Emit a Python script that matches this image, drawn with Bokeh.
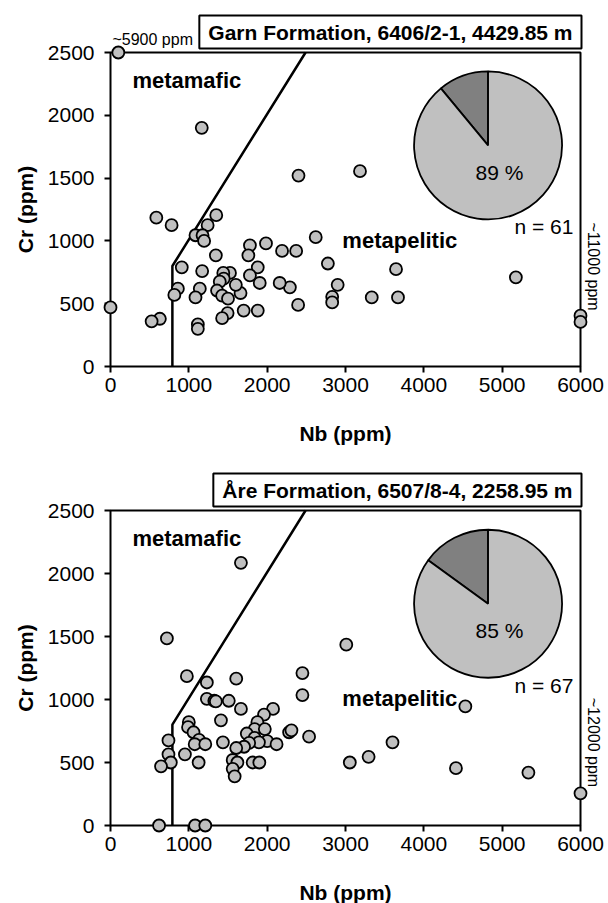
import math
from bokeh.plotting import figure
from bokeh.models import Range1d, LinearAxis, FixedTicker, BoxAnnotation, Label, ColumnDataSource
from bokeh.layouts import column
from bokeh.embed import file_html
from bokeh.resources import INLINE

# ---------------- data ----------------
x_ticks = [0, 1000, 2000, 3000, 4000, 5000, 6000]
y_ticks = [0, 500, 1000, 1500, 2000, 2500]

boundary_nb = [790, 790, 2490]
boundary_cr = [0, 800, 2500]

garn_title = "Garn Formation, 6406/2-1, 4429.85 m"
garn_n = 61
garn_metapelitic_pct = 89
garn_nb = [2400, 585, 780, 1350, 1240, 1085, 1175, 1195, 1345, 1780, 1760, 1985, 2190, 2370,
           2620, 2775, 2900, 2830, 2830, 2395, 2290, 2160, 1905, 1880, 1780, 1880, 1700, 1660,
           1600, 1525, 1440, 1445, 1395, 1360, 1425, 1500, 1495, 1425, 1170, 1140, 1085, 1115,
           1115, 910, 860, 815, 630, 525, 0, 1165, 3185, 3645, 3335, 3670, 5175, 6000, 6000, 100]
garn_cr = [1520, 1185, 1125, 1205, 1125, 1045, 1045, 1000, 885, 965, 885, 980, 920, 920,
           1030, 820, 650, 555, 510, 490, 630, 665, 665, 790, 725, 445, 445, 585,
           650, 745, 745, 700, 675, 605, 565, 540, 425, 385, 760, 620, 550, 335,
           300, 790, 620, 570, 380, 360, 470, 1900, 1555, 775, 550, 550, 710, 405, 355, 2500]

are_title = "\u00c5re Formation, 6507/8-4, 2258.95 m"
are_n = 67
are_metapelitic_pct = 85
are_nb = [975, 1230, 1605, 2450, 2450, 1230, 1325, 1345, 1510, 1665, 2075, 1960, 1875, 1840,
          1970, 1740, 1840, 2000, 1895, 1770, 1705, 1605, 2120, 2280, 2310, 2535, 1410, 1435,
          1560, 1620, 1560, 1585, 1815, 1900, 1000, 990, 1060, 1130, 1075, 1210, 950, 1125,
          740, 740, 770, 645, 620, 1080, 1210, 3055, 1665, 720, 3010, 4530, 3600, 3295, 4410,
          5335, 6000]
are_cr = [1185, 1135, 1165, 1210, 1035, 1005, 990, 985, 990, 925, 925, 880, 820, 765,
          765, 730, 695, 670, 660, 655, 625, 615, 645, 740, 755, 705, 835, 660,
          520, 500, 450, 390, 500, 500, 820, 780, 740, 680, 645, 645, 565, 500,
          675, 565, 500, 470, 0, 0, 0, 500, 2085, 1485, 1435, 945, 660, 545, 455,
          420, 255]

FONT = "Liberation Sans"
FIG_W = 608
BOX_L, BOX_R = 110.0, 580.0          # pixel columns of Nb = 0 and Nb = 6000


def make_panel(title, nb, cr, n, pct, off_label, off_y, height, canvas_top,
               box_top, box_bottom, nb_label_y, extra_label=None):
    xs = (BOX_R - BOX_L) / 6000.0
    ys = (box_bottom - box_top) / 2500.0
    x0 = -BOX_L / xs
    x1 = (FIG_W - BOX_L) / xs
    y1 = (box_bottom - canvas_top) / ys
    y0 = (box_bottom - (canvas_top + height)) / ys
    p = figure(width=FIG_W, height=height,
               x_range=Range1d(x0, x1), y_range=Range1d(y0, y1),
               x_axis_type=None, y_axis_type=None,
               output_backend="svg", toolbar_location=None,
               min_border_left=0, min_border_right=0,
               min_border_top=0, min_border_bottom=0)
    p.outline_line_color = None
    p.background_fill_color = "white"
    p.border_fill_color = "white"

    for side, ticks, bounds in (("below", x_ticks, (0, 6000)), ("left", y_ticks, (0, 2500))):
        ax = LinearAxis(fixed_location=0, bounds=bounds, ticker=FixedTicker(ticks=ticks))
        ax.axis_line_color = None
        ax.major_tick_line_color = "black"
        ax.major_tick_line_width = 2
        ax.major_tick_out = 6
        ax.major_tick_in = 0
        ax.minor_tick_line_color = None
        ax.major_label_text_font = FONT
        ax.major_label_text_font_size = "21px"
        ax.major_label_text_color = "black"
        ax.major_label_standoff = 5 if side == "below" else 10
        p.add_layout(ax, side)

    p.add_layout(BoxAnnotation(left=0, right=6000, bottom=0, top=2500,
                               fill_color=None, fill_alpha=0, line_color="black",
                               line_alpha=1.0, line_width=2, level="underlay"))

    p.line(boundary_nb, boundary_cr, line_color="black", line_width=2.5)

    # pie: metamafic share (dark) and metapelitic share (light)
    maf = (100 - pct) / 100.0
    a0 = math.pi / 2
    a1 = a0 + 2 * math.pi * maf
    pie = ColumnDataSource(dict(x=[4820, 4820], y=[1760, 1760],
                                start=[a0, a1], end=[a1, a0 + 2 * math.pi],
                                color=["#808080", "#c0c0c0"]))
    p.wedge(x="x", y="y", radius=74, radius_units="screen", start_angle="start",
            end_angle="end", fill_color="color", line_color="black", line_width=1.8,
            source=pie)

    p.scatter(nb, cr, size=12, marker="circle", fill_color="#c0c0c0",
              line_color="black", line_width=1.8, level="overlay")

    def lab(**kw):
        base = dict(text_font=FONT, text_color="black")
        base.update(kw)
        p.add_layout(Label(**base))

    lab(x=6000, y=2500, text=title, text_align="right", text_baseline="bottom",
        x_offset=1, y_offset=4, text_font_size="21px", text_font_style="bold",
        border_line_color="black", border_line_width=2, background_fill_color="white",
        padding=dict(left=9, right=9, top=5, bottom=5))
    lab(x=280, y=2280, text="metamafic", text_align="left", text_baseline="middle",
        text_font_size="22px", text_font_style="bold")
    lab(x=2960, y=1005, text="metapelitic", text_align="left", text_baseline="middle",
        text_font_size="22px", text_font_style="bold")
    lab(x=5910, y=1113, text="n = %d" % n, text_align="right", text_baseline="middle",
        text_font_size="21px")
    lab(x=4965, y=1545, text="%d %%" % pct, text_align="center", text_baseline="middle",
        text_font_size="21px")
    lab(x=6165, y=off_y, text=off_label, text_align="center", text_baseline="middle",
        angle=-math.pi / 2, text_font_size="16px")
    if extra_label is not None:
        lab(x=25, y=2603, text=extra_label, text_align="left", text_baseline="middle",
            text_font_size="16px")
    lab(x=3000, y=nb_label_y, text="Nb (ppm)", text_align="center", text_baseline="middle",
        text_font_size="21px", text_font_style="bold")
    lab(x=-1085, y=1250, text="Cr (ppm)", text_align="center", text_baseline="middle",
        angle=math.pi / 2, text_font_size="21px", text_font_style="bold")
    return p


p1 = make_panel(garn_title, garn_nb, garn_cr, garn_n, garn_metapelitic_pct,
                "~11000 ppm", 796, 460, 0, 52.0, 366.0, -533, extra_label="~5900 ppm")
p2 = make_panel(are_title, are_nb, are_cr, are_n, are_metapelitic_pct,
                "~12000 ppm", 659, 443, 460, 510.0, 825.0, -530)

layout = column(p1, p2, spacing=0)
open("out.html", "w").write(file_html(layout, INLINE))
